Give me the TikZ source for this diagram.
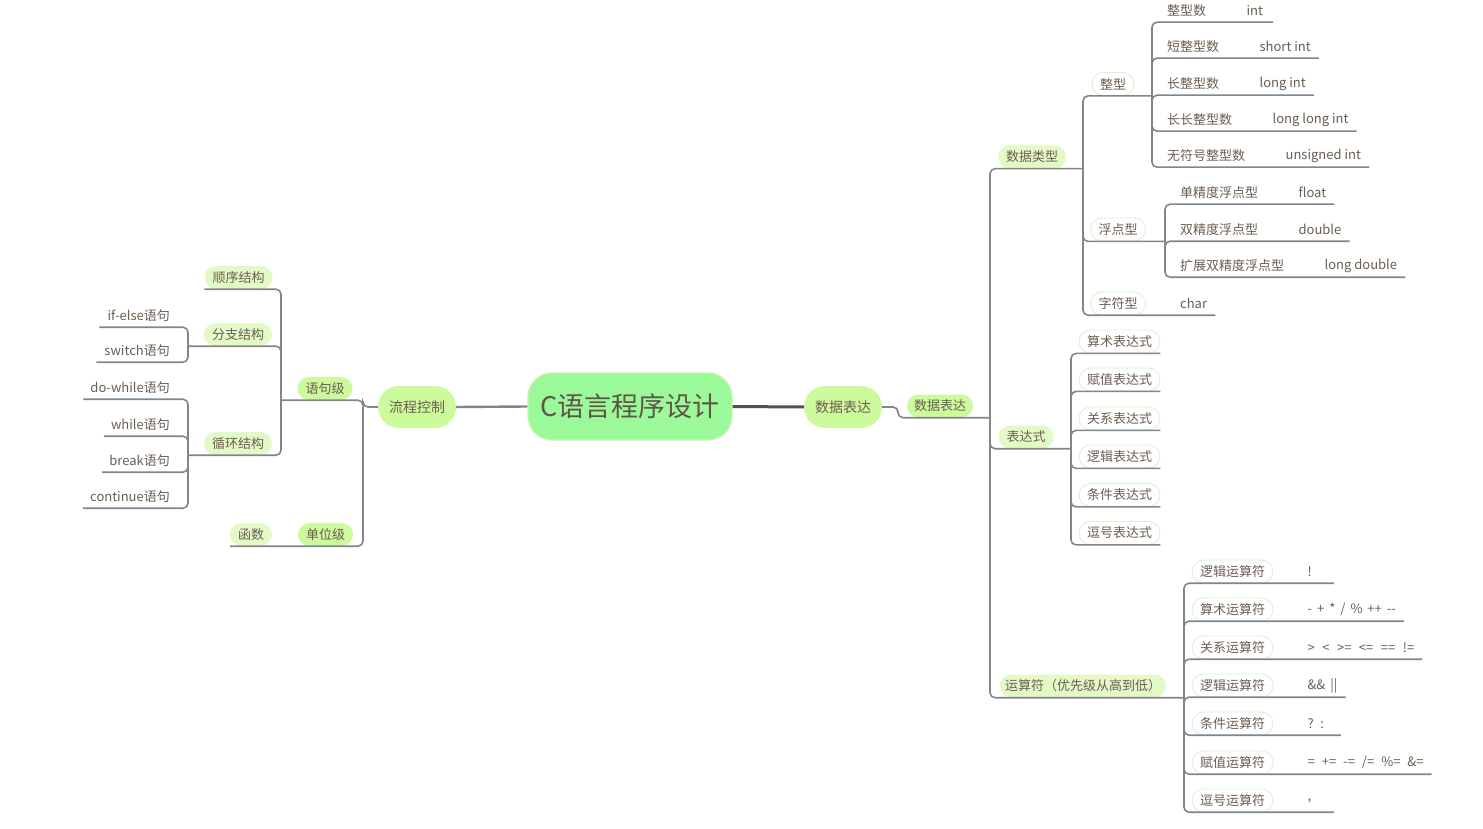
\documentclass[tikz,border=0pt]{standalone}
\usepackage{fontspec}
\setmainfont{Noto Sans CJK SC}[Ligatures=TeXOff]
\usetikzlibrary{positioning}
\definecolor{rootfill}{HTML}{9CF99A}
\definecolor{rootedge}{HTML}{C6F5AA}
\definecolor{roottxt}{HTML}{5F5548}
\definecolor{mainfill}{HTML}{CCFA9C}
\definecolor{topicfill}{HTML}{E3FAC6}
\definecolor{itemedge}{HTML}{D2F5CA}
\definecolor{txtc}{HTML}{6B5E52}
\definecolor{linec}{HTML}{80868C}
\definecolor{darkline}{HTML}{4E5256}

\begin{document}
\begin{tikzpicture}[x=1pt, y=-1pt, every node/.style={text=txtc, font=\fontsize{13}{15}\selectfont},
    root/.style={rounded corners=24pt, fill=rootfill, draw=rootedge, line width=1.2pt, minimum width=204pt, minimum height=67pt, font=\fontsize{27}{30}\selectfont, text=roottxt},
    main/.style={rounded corners=21pt, fill=mainfill, minimum width=78pt, minimum height=42pt, font=\fontsize{14}{16}\selectfont},
    sub/.style={rounded corners=11.5pt, fill=mainfill, inner xsep=8pt, inner ysep=0pt, minimum height=23pt},
    topic/.style={rounded corners=11.5pt, fill=topicfill, inner xsep=8pt, inner ysep=0pt, minimum height=23pt},
    item/.style={rounded corners=11.5pt, fill=white, draw=itemedge, line width=0.8pt, inner xsep=8pt, inner ysep=0pt, minimum height=23pt},
    leaf/.style={inner sep=0pt, minimum height=23pt},
    link/.style={draw=linec, line width=1.6pt, rounded corners=5pt}]
    \path[use as bounding box, fill=white] (0,0) rectangle (1483,829);

    \node[root] (root) at (630,406.5) {C语言程序设计};
    \node[main] (ctrl) at (417,407) {流程控制};
    \node[main] (data) at (843,407) {数据表达};
    \node[sub, inner xsep=7pt] (data2) at (940,406) {数据表达};

    \node[sub] (stmt) at (325,388.5) {语句级};
    \node[sub] (unit) at (325.5,534.5) {单位级};
    \node[topic] (seq) at (238.5,277.5) {顺序结构};
    \node[topic] (branch) at (238,334.5) {分支结构};
    \node[topic] (loop) at (238,443.5) {循环结构};
    \node[topic] (func) at (251,534.5) {函数};
    \node[leaf, anchor=east] (ifelse) at (170,315.5) {if-else语句};
    \node[leaf, anchor=east] (switch) at (170,350.5) {switch语句};
    \node[leaf, anchor=east] (dowhile) at (170,387.5) {do-while语句};
    \node[leaf, anchor=east] (while) at (170,424.5) {while语句};
    \node[leaf, anchor=east] (break) at (170,460.5) {break语句};
    \node[leaf, anchor=east] (cont) at (170,496.5) {continue语句};

    \node[topic] (dtype) at (1032,157) {数据类型};
    \node[topic] (expr) at (1026,437) {表达式};
    \node[topic, inner xsep=5pt] (ops) at (1083,686) {运算符（优先级从高到低）};

    \node[item] (intg) at (1113,84) {整型};
    \node[item] (flt) at (1118,229.5) {浮点型};
    \node[item] (chr) at (1118,303.5) {字符型};
    \node[leaf, anchor=west] (vchr) at (1180,303.5) {char};

    \node[leaf, anchor=west] (i1) at (1167,10.5) {整型数};
    \node[leaf, right=40pt of i1] (vi1) {int};
    \node[leaf, anchor=west] (i2) at (1167,46.5) {短整型数};
    \node[leaf, right=40pt of i2] (vi2) {short int};
    \node[leaf, anchor=west] (i3) at (1167,83.5) {长整型数};
    \node[leaf, right=40pt of i3] (vi3) {long int};
    \node[leaf, anchor=west] (i4) at (1167,119.5) {长长整型数};
    \node[leaf, right=40pt of i4] (vi4) {long long int};
    \node[leaf, anchor=west] (i5) at (1167,155.5) {无符号整型数};
    \node[leaf, right=40pt of i5] (vi5) {unsigned int};

    \node[leaf, anchor=west] (f1) at (1180,192.5) {单精度浮点型};
    \node[leaf, right=40pt of f1] (vf1) {float};
    \node[leaf, anchor=west] (f2) at (1180,229.5) {双精度浮点型};
    \node[leaf, right=40pt of f2] (vf2) {double};
    \node[leaf, anchor=west] (f3) at (1180,265.5) {扩展双精度浮点型};
    \node[leaf, right=40pt of f3] (vf3) {long double};

    \node[item] (e1) at (1119.5,341.5) {算术表达式};
    \node[item] (e2) at (1119.5,379.5) {赋值表达式};
    \node[item] (e3) at (1119.5,418.5) {关系表达式};
    \node[item] (e4) at (1119.5,456.5) {逻辑表达式};
    \node[item] (e5) at (1119.5,495) {条件表达式};
    \node[item] (e6) at (1119.5,533) {逗号表达式};

    \node[item] (o1) at (1232.5,571.5) {逻辑运算符};
    \node[leaf, right=34pt of o1, text width=18pt, align=left] (vo1) {!};
    \node[item] (o2) at (1232.5,609.5) {算术运算符};
    \node[leaf, right=34pt of o2] (vo2) {\spaceskip=5pt\relax - + * / \% ++ --};
    \node[item] (o3) at (1232.5,647.5) {关系运算符};
    \node[leaf, right=34pt of o3] (vo3) {\spaceskip=7.5pt\relax > < >= <= == !=};
    \node[item] (o4) at (1232.5,685.5) {逻辑运算符};
    \node[leaf, right=34pt of o4] (vo4) {\spaceskip=5pt\relax \&\& ||};
    \node[item] (o5) at (1232.5,723.5) {条件运算符};
    \node[leaf, right=34pt of o5, text width=25pt, align=left] (vo5) {? :};
    \node[item] (o6) at (1232.5,762.5) {赋值运算符};
    \node[leaf, right=34pt of o6] (vo6) {\spaceskip=7pt\relax = += -= /= \%= \&=};
    \node[item] (o7) at (1232.5,800.5) {逗号运算符};
    \node[leaf, right=34pt of o7, text width=18pt, align=left] (vo7) {,};

    \coordinate (tl1) at (363,0);
    \coordinate (tl2) at (281,0);
    \coordinate (tl3) at (188,0);
    \coordinate (tr1) at (898,0);
    \coordinate (tr2) at (990,0);
    \coordinate (tr3) at (1083,0);
    \coordinate (tr4) at (1152,0);
    \coordinate (tr5) at (1165,0);
    \coordinate (tr6) at (1071,0);
    \coordinate (tr7) at (1184,0);

    \draw[darkline, line width=3pt] (root.east) -- (data.west);
    \draw[linec, line width=2.4pt] (root.west) -- (ctrl.east);

    \draw[link] (ctrl.west) -- (tl1 |- ctrl.west) |- (tl2 |- stmt.south);
    \draw[link] (tl1 |- ctrl.west) |- (func.south west);
    \draw[link] (tl2 |- stmt.south) |- (seq.south west);
    \draw[link] (tl2 |- stmt.south) |- (tl3 |- branch.south);
    \draw[link] (tl2 |- stmt.south) |- (tl3 |- loop.south);
    \draw[link] (tl3 |- branch.south) |- ([xshift=-8pt]ifelse.south west);
    \draw[link] (tl3 |- branch.south) |- ([xshift=-8pt]switch.south west);
    \draw[link] (tl3 |- loop.south) |- ([xshift=-7pt]dowhile.south west);
    \draw[link] (tl3 |- loop.south) |- ([xshift=-7pt]while.south west);
    \draw[link] (tl3 |- loop.south) |- ([xshift=-7pt]break.south west);
    \draw[link] (tl3 |- loop.south) |- ([xshift=-7pt]cont.south west);

    \draw[link] (data.east) -| (tr1 |- data2.south) -- (tr2 |- data2.south);
    \draw[link] (tr2 |- data2.south) |- (tr3 |- dtype.south);
    \draw[link] (tr2 |- data2.south) |- (tr6 |- expr.south);
    \draw[link] (tr2 |- data2.south) |- (tr7 |- ops.south);

    \draw[link] (tr3 |- dtype.south) |- (tr4 |- intg.south);
    \draw[link] (tr3 |- dtype.south) |- (tr5 |- flt.south);
    \draw[link] (tr3 |- dtype.south) |- ([xshift=8pt]vchr.south east);

    \draw[link] (tr4 |- intg.south) |- ([xshift=10pt]vi1.south east);
    \draw[link] (tr4 |- intg.south) |- ([xshift=8pt]vi2.south east);
    \draw[link] (tr4 |- intg.south) |- ([xshift=8pt]vi3.south east);
    \draw[link] (tr4 |- intg.south) |- ([xshift=8pt]vi4.south east);
    \draw[link] (tr4 |- intg.south) |- ([xshift=8pt]vi5.south east);

    \draw[link] (tr5 |- flt.south) |- ([xshift=8pt]vf1.south east);
    \draw[link] (tr5 |- flt.south) |- ([xshift=8pt]vf2.south east);
    \draw[link] (tr5 |- flt.south) |- ([xshift=8pt]vf3.south east);

    \draw[link] (tr6 |- expr.south) |- (e1.south east);
    \draw[link] (tr6 |- expr.south) |- (e2.south east);
    \draw[link] (tr6 |- expr.south) |- (e3.south east);
    \draw[link] (tr6 |- expr.south) |- (e4.south east);
    \draw[link] (tr6 |- expr.south) |- (e5.south east);
    \draw[link] (tr6 |- expr.south) |- (e6.south east);

    \draw[link] (tr7 |- ops.south) |- ([xshift=8pt]vo1.south east);
    \draw[link] (tr7 |- ops.south) |- ([xshift=8pt]vo2.south east);
    \draw[link] (tr7 |- ops.south) |- ([xshift=8pt]vo3.south east);
    \draw[link] (tr7 |- ops.south) |- ([xshift=8pt]vo4.south east);
    \draw[link] (tr7 |- ops.south) |- ([xshift=8pt]vo5.south east);
    \draw[link] (tr7 |- ops.south) |- ([xshift=8pt]vo6.south east);
    \draw[link] (tr7 |- ops.south) |- ([xshift=8pt]vo7.south east);
\end{tikzpicture}
\end{document}
